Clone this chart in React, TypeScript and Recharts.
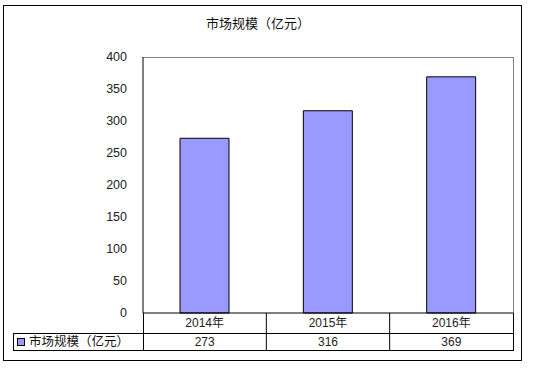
import React from "react";
import { BarChart, Bar, XAxis, YAxis, Customized } from "recharts";

const categories = ["2014年", "2015年", "2016年"];
const values = [273, 316, 369];
const yTicks = [0, 50, 100, 150, 200, 250, 300, 350, 400];
const seriesName = "市场规模（亿元）";
const title = "市场规模（亿元）";

const data = categories.map((c, i) => ({ year: c, value: values[i] }));

const FONT = "'Liberation Sans', 'Noto Sans CJK SC', sans-serif";
const BAR_FILL = "#9999FF";

const PLOT = { left: 143, top: 57, right: 513, bottom: 313 };
const ROW1 = 333;
const ROW2 = 350;

const Frame = () => {
  const n = categories.length;
  const w = (PLOT.right - PLOT.left) / n;
  const dividers = [];
  for (let i = 1; i < n; i++) {
    const x = PLOT.left + w * i;
    dividers.push(<line key={i} x1={x} x2={x} y1={PLOT.bottom} y2={ROW2} stroke="#000" strokeWidth={1} />);
  }
  return (
    <g>
      <rect x={3.5} y={5.5} width={518} height={355} fill="none" stroke="#000" strokeWidth={1} />
      <line x1={PLOT.left} x2={PLOT.right} y1={PLOT.top + 0.5} y2={PLOT.top + 0.5} stroke="#808080" />
      <line x1={PLOT.right + 0.5} x2={PLOT.right + 0.5} y1={PLOT.top} y2={PLOT.bottom} stroke="#808080" />
      <line x1={PLOT.right + 0.5} x2={PLOT.right + 0.5} y1={PLOT.bottom} y2={ROW2} stroke="#000" />
      <line x1={PLOT.left + 0.5} x2={PLOT.left + 0.5} y1={PLOT.bottom} y2={ROW2} stroke="#000" />
      <line x1={PLOT.left} x2={PLOT.right} y1={ROW1 + 0.5} y2={ROW1 + 0.5} stroke="#000" />
      <line x1={13} x2={PLOT.right} y1={ROW1 + 0.5} y2={ROW1 + 0.5} stroke="#000" />
      <line x1={13} x2={PLOT.right + 1} y1={ROW2 + 0.5} y2={ROW2 + 0.5} stroke="#000" />
      <line x1={13.5} x2={13.5} y1={ROW1} y2={ROW2} stroke="#000" />
      {dividers}
      <rect x={17.5} y={338.5} width={7} height={7} fill={BAR_FILL} stroke="#000" />
      <text x={29} y={346} fontSize={12.5} fontFamily={FONT} fill="#111">{seriesName}</text>
      <text x={258} y={28} fontSize={13} fontFamily={FONT} fill="#111" textAnchor="middle">{title}</text>
    </g>
  );
};

const TableTick = (props: any) => {
  const { x, payload, index } = props;
  const idx = typeof index === "number" ? index : categories.indexOf(payload.value);
  return (
    <g>
      <text x={x} y={327} textAnchor="middle" fontSize={12} fontFamily={FONT} fill="#222">{payload.value}</text>
      <text x={x} y={346} textAnchor="middle" fontSize={12} fontFamily={FONT} fill="#222">{values[idx]}</text>
    </g>
  );
};

export default function App() {
  return (
    <div style={{ position: "absolute", left: 0, top: 0, width: 538, height: 368, background: "#fff" }}>
      <BarChart
        width={538}
        height={368}
        data={data}
        margin={{ top: PLOT.top, right: 538 - PLOT.right, left: 0, bottom: 0 }}
        barCategoryGap="30%"
      >
        <Customized component={Frame} />
        <YAxis
          domain={[0, 400]}
          ticks={yTicks}
          width={PLOT.left}
          axisLine={{ stroke: "#000" }}
          tickLine={false}
          tickMargin={10}
          interval={0}
          tick={{ fontSize: 12.5, fontFamily: FONT, fill: "#222" }}
        />
        <XAxis
          dataKey="year"
          height={368 - PLOT.bottom}
          axisLine={{ stroke: "#000" }}
          tickLine={false}
          interval={0}
          tick={<TableTick />}
        />
        <Bar dataKey="value" fill={BAR_FILL} stroke="#000" strokeWidth={1} isAnimationActive={false} />
      </BarChart>
    </div>
  );
}
